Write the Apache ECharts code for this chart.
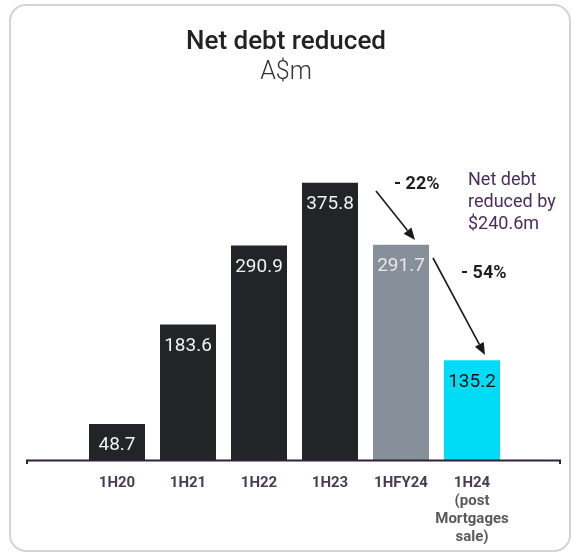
<!DOCTYPE html>
<html>
<head>
<meta charset="utf-8">
<script src="https://cdn.jsdelivr.net/npm/echarts@6/dist/echarts.min.js"></script>
<style>html,body{margin:0;padding:0;background:#fff;}#c{width:572px;height:554px;}</style>
</head>
<body>
<div id="c"></div>
<script>
const categories = ['1H20', '1H21', '1H22', '1H23', '1HFY24', '1H24\n(post\nMortgages\nsale)'];
const values = [48.7, 183.6, 290.9, 375.8, 291.7, 135.2];
const barColors = ['#222428', '#222428', '#222428', '#222428', '#878f9b', '#00dcf5'];
const labelColors = ['#f0f0f0', '#f0f0f0', '#f0f0f0', '#f0f0f0', '#e8e8e8', '#111111'];

const chart = echarts.init(document.getElementById('c'), null, {renderer: 'canvas'});
const FONT = 'Roboto';

function arrow(x1, y1, x2, y2) {
  const dx = x2 - x1, dy = y2 - y1, L = Math.sqrt(dx*dx + dy*dy);
  const ux = dx / L, uy = dy / L, hl = 12, hw = 5;
  const bx = x2 - ux*hl, by = y2 - uy*hl;
  return [
    {type: 'line', shape: {x1: x1, y1: y1, x2: bx, y2: by}, style: {stroke: '#1a1a1a', lineWidth: 1.6}},
    {type: 'polygon', shape: {points: [[x2, y2], [bx - uy*hw, by + ux*hw], [bx + uy*hw, by - ux*hw]]}, style: {fill: '#1a1a1a'}}
  ];
}

chart.setOption({
  animation: false,
  backgroundColor: '#ffffff',
  title: [
    {text: 'Net debt reduced', left: 'center', top: 24, textStyle: {fontFamily: FONT, fontSize: 26, fontWeight: 500, color: '#222222'}},
    {text: 'A$m', left: 'center', top: 55, textStyle: {fontFamily: FONT, fontSize: 25, fontWeight: 300, color: '#333333'}}
  ],
  grid: {left: 81.5, right: 64.5, top: 165, bottom: 94},
  xAxis: {
    type: 'category',
    data: categories,
    axisLine: {show: false},
    axisTick: {show: false},
    axisLabel: {
      interval: 0, margin: 14, fontFamily: FONT, fontSize: 15, fontWeight: 'bold',
      color: '#4a3b56', lineHeight: 18, verticalAlign: 'top',
      formatter: function (v) {
        const parts = v.split('\n');
        if (parts.length === 1) return v;
        return parts[0] + '\n' + parts.slice(1).map(p => '{g|' + p + '}').join('\n');
      },
      rich: {g: {fontFamily: FONT, fontSize: 15, fontWeight: 'bold', color: '#5a5a5a', lineHeight: 18}}
    }
  },
  yAxis: {type: 'value', min: 0, max: 400, show: false, splitLine: {show: false}},
  series: [{
    type: 'bar',
    data: values.map((v, i) => ({
      value: v,
      itemStyle: {color: barColors[i]},
      label: {color: labelColors[i]}
    })),
    barWidth: 56,
    label: {
      show: true, position: 'insideTop', distance: 12,
      fontFamily: FONT, fontSize: 19, formatter: p => p.value.toFixed(1)
    }
  }],
  graphic: [
    {type: 'rect', shape: {x: 10, y: 5, width: 560, height: 546, r: 16}, style: {fill: 'none', stroke: '#d4d4d4', lineWidth: 2}, z: -1},
    {type: 'polyline', shape: {points: [[27, 464], [27, 460.5], [560, 460.5], [560, 464]]}, style: {stroke: '#2f2139', lineWidth: 2, fill: null}, z: 10},
    ...arrow(376, 191, 415, 240),
    ...arrow(433, 258, 485, 355),
    {type: 'text', x: 394, y: 184, style: {text: '- 22%', fontFamily: FONT, fontSize: 18, fontWeight: 'bold', fill: '#1e1e1e', textVerticalAlign: 'middle'}},
    {type: 'text', x: 461, y: 273, style: {text: '- 54%', fontFamily: FONT, fontSize: 18, fontWeight: 'bold', fill: '#1e1e1e', textVerticalAlign: 'middle'}},
    {type: 'text', x: 468, y: 169, style: {text: 'Net debt\nreduced by\n$240.6m', fontFamily: FONT, fontSize: 18, lineHeight: 22, fill: '#4b2c5e', textVerticalAlign: 'top'}}
  ]
});
</script>
</body>
</html>
